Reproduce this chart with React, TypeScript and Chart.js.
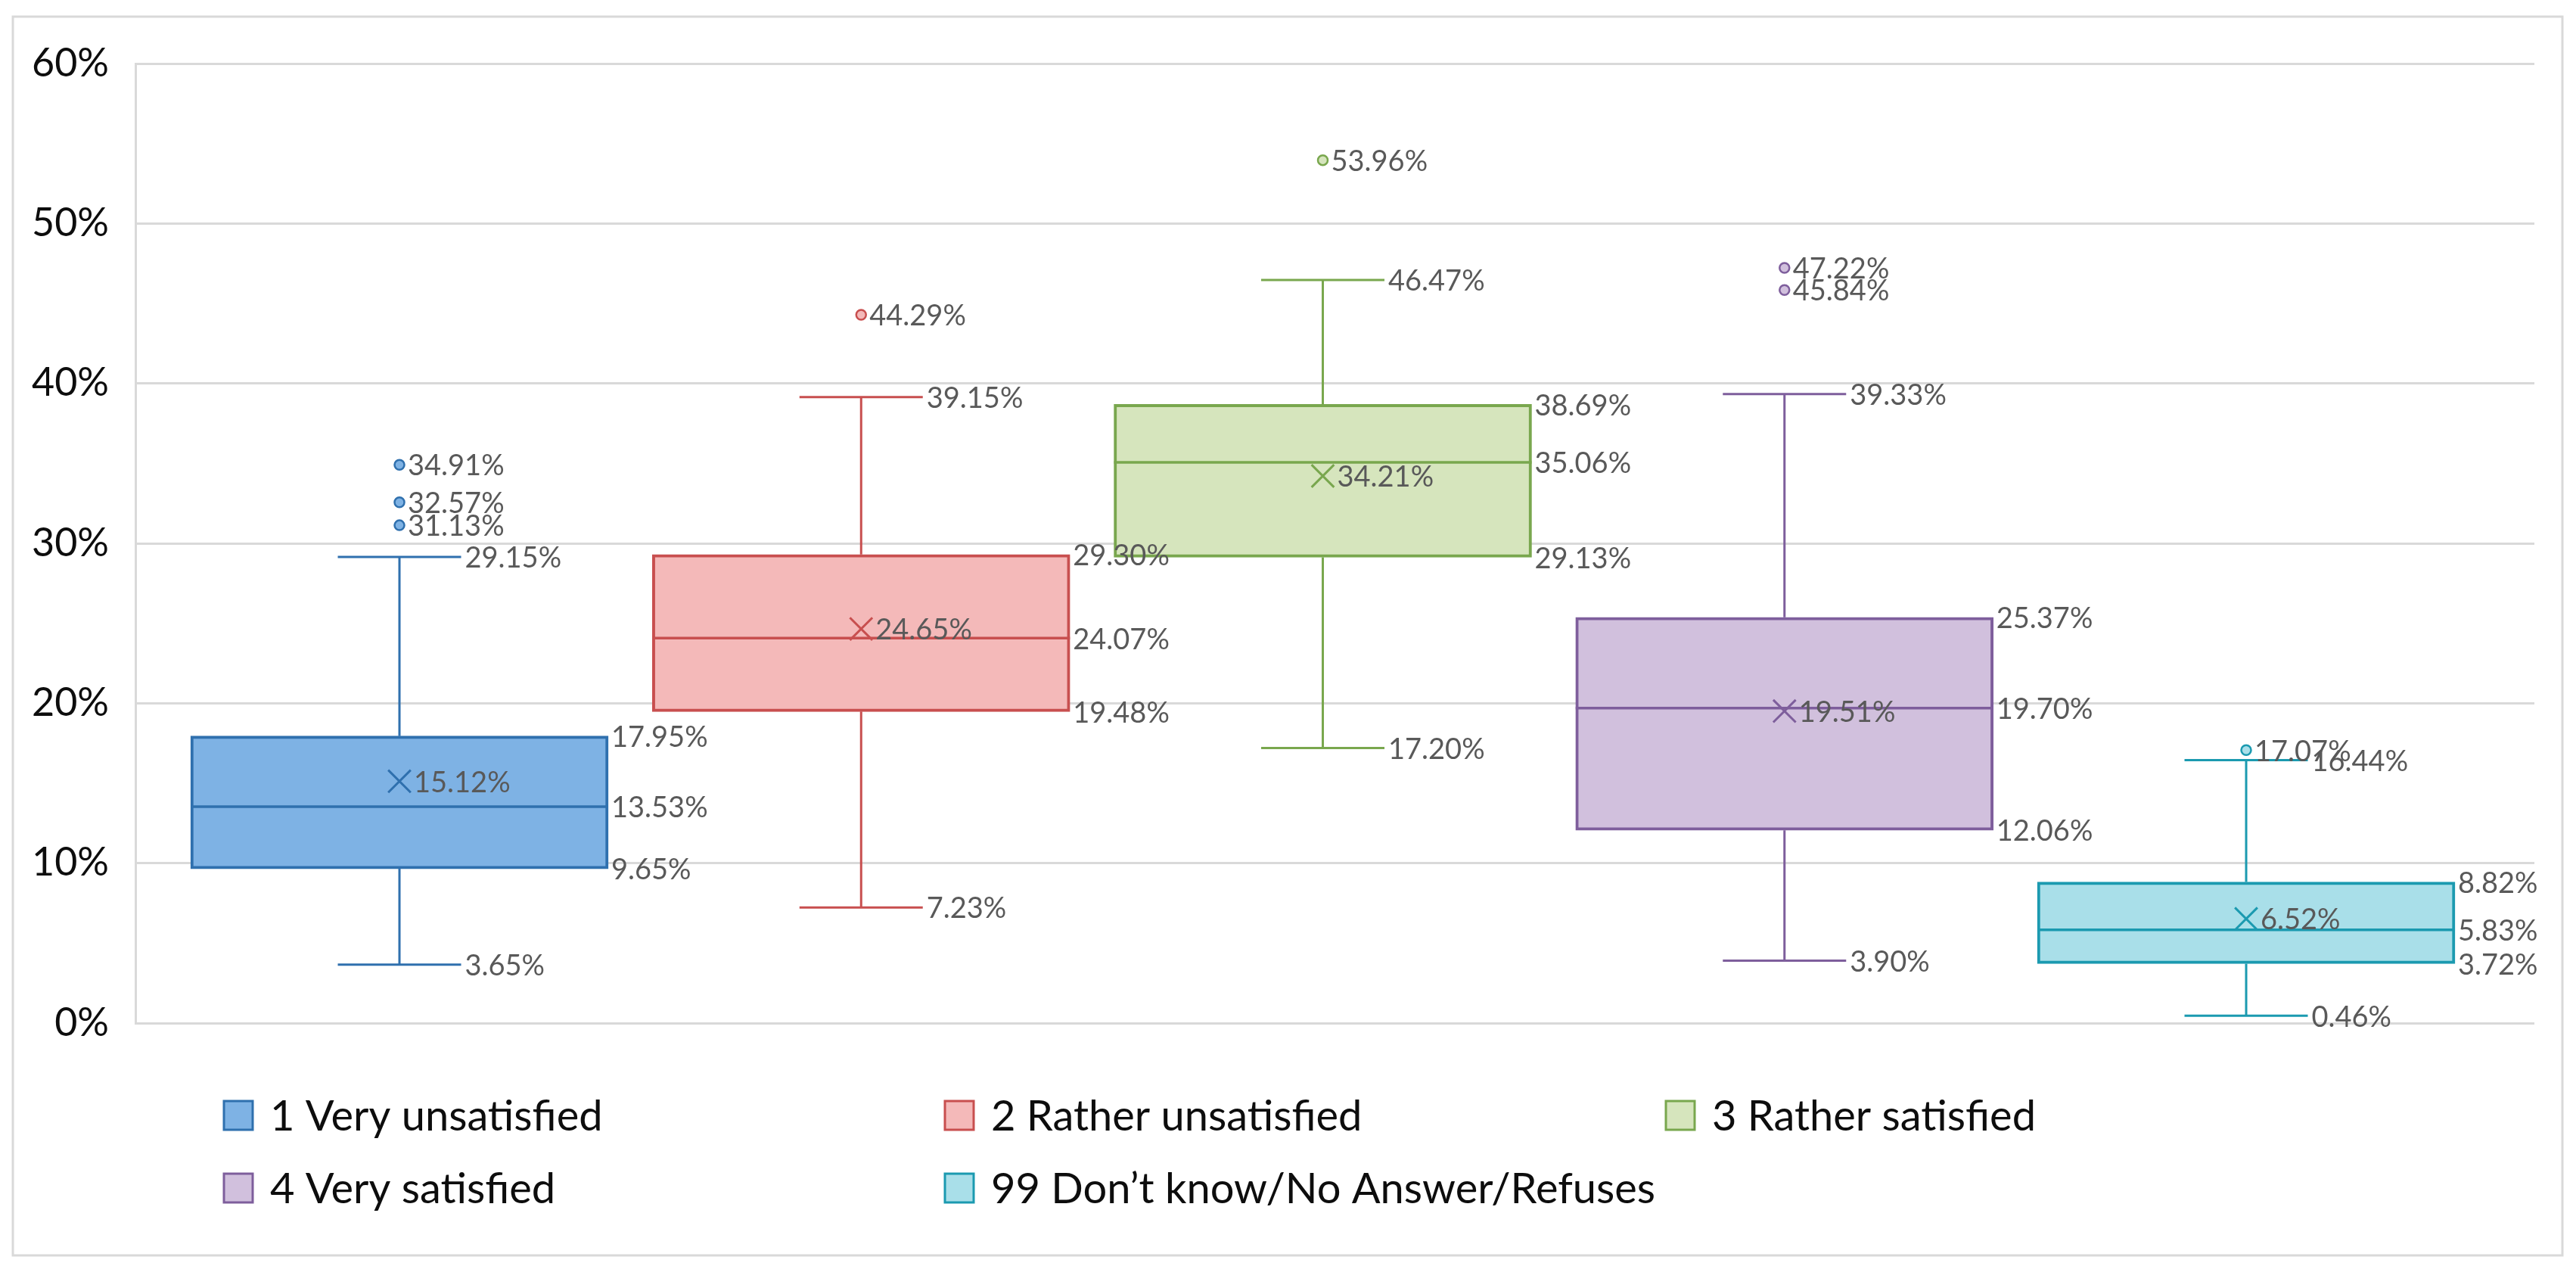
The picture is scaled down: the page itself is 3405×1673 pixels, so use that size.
import React, { useEffect, useRef } from "react";
import { Chart, registerables } from "chart.js";

Chart.register(...registerables);

// ---- data ----
const seriesNames = [
  "1 Very unsatisfied",
  "2 Rather unsatisfied",
  "3 Rather satisfied",
  "4 Very satisfied",
  "99 Don\u2019t know/No Answer/Refuses",
];
const whiskerLow = [3.65, 7.23, 17.2, 3.9, 0.46];
const quartile1 = [9.65, 19.48, 29.13, 12.06, 3.72];
const medians = [13.53, 24.07, 35.06, 19.7, 5.83];
const quartile3 = [17.95, 29.3, 38.69, 25.37, 8.82];
const whiskerHigh = [29.15, 39.15, 46.47, 39.33, 16.44];
const means = [15.12, 24.65, 34.21, 19.51, 6.52];
const outliers = [[31.13, 32.57, 34.91], [44.29], [53.96], [45.84, 47.22], [17.07]];
const yTickLabels = ["0%", "10%", "20%", "30%", "40%", "50%", "60%"];

// ---- styles ----
const fillColors = ["#7eb2e4", "#f4b9b9", "#d6e5bd", "#d1c0dd", "#a9dfe9"];
const lineColors = ["#2f70ae", "#c84f4f", "#79a74e", "#7e5e9c", "#1b9ab0"];
const FONT = "Lato";
const LABEL_COLOR = "#595959";
const TEXT_COLOR = "#0d0d0d";
const GRID_COLOR = "#d9d9d9";

const fmt = (v: number) => v.toFixed(2) + "%";

const boxPlugin = {
  id: "boxExtras",
  beforeDraw(chart: any) {
    const ctx = chart.ctx;
    ctx.save();
    ctx.fillStyle = "#ffffff";
    ctx.fillRect(0, 0, chart.width, chart.height);
    ctx.strokeStyle = GRID_COLOR;
    ctx.lineWidth = 3;
    ctx.strokeRect(17, 22, 3370, 1637);
    ctx.restore();
  },
  afterDatasetDraw(chart: any, args: any) {
    const meta = args.meta;
    if (meta.type !== "bar") return;
    const i = meta.index;
    const el = meta.data[0];
    if (!el) return;
    const y = chart.scales.y;
    const ctx = chart.ctx;
    const cx = el.x;
    const half = el.width / 2;
    const cap = 81.5;
    ctx.save();
    ctx.strokeStyle = lineColors[i];
    ctx.lineCap = "butt";
    // whiskers
    ctx.lineWidth = 3;
    ctx.beginPath();
    ctx.moveTo(cx, y.getPixelForValue(quartile3[i]));
    ctx.lineTo(cx, y.getPixelForValue(whiskerHigh[i]));
    ctx.moveTo(cx - cap, y.getPixelForValue(whiskerHigh[i]));
    ctx.lineTo(cx + cap, y.getPixelForValue(whiskerHigh[i]));
    ctx.moveTo(cx, y.getPixelForValue(quartile1[i]));
    ctx.lineTo(cx, y.getPixelForValue(whiskerLow[i]));
    ctx.moveTo(cx - cap, y.getPixelForValue(whiskerLow[i]));
    ctx.lineTo(cx + cap, y.getPixelForValue(whiskerLow[i]));
    ctx.stroke();
    // median
    ctx.lineWidth = 3.5;
    ctx.beginPath();
    ctx.moveTo(cx - half, y.getPixelForValue(medians[i]));
    ctx.lineTo(cx + half, y.getPixelForValue(medians[i]));
    ctx.stroke();
    ctx.restore();
  },
  afterDraw(chart: any) {
    const ctx = chart.ctx;
    const y = chart.scales.y;
    ctx.save();
    ctx.font = `38px ${FONT}`;
    ctx.fillStyle = LABEL_COLOR;
    ctx.textAlign = "left";
    ctx.textBaseline = "middle";
    const dy = 2;
    seriesNames.forEach((_, i) => {
      const meta = chart.getDatasetMeta(i);
      const el = meta.data[0];
      if (!el) return;
      const cx = el.x;
      const right = el.x + el.width / 2;
      [quartile3[i], medians[i], quartile1[i]].forEach((v) => {
        ctx.fillText(fmt(v), right + 4, y.getPixelForValue(v) + dy);
      });
      [whiskerHigh[i], whiskerLow[i]].forEach((v) => {
        ctx.fillText(fmt(v), cx + 81.5 + 5, y.getPixelForValue(v) + dy);
      });
      ctx.fillText(fmt(means[i]), cx + 19, y.getPixelForValue(means[i]) + dy);
      outliers[i].forEach((v) => {
        ctx.fillText(fmt(v), cx + 11, y.getPixelForValue(v) + dy);
      });
    });
    // legend
    const legendLeft = 296;
    const colWidth = 953;
    const rowCenters = [1474, 1570];
    const box = 38;
    ctx.font = `56px ${FONT}`;
    ctx.fillStyle = TEXT_COLOR;
    seriesNames.forEach((name, i) => {
      const col = i % 3;
      const row = Math.floor(i / 3);
      const lx = legendLeft + col * colWidth;
      const ly = rowCenters[row];
      ctx.fillStyle = fillColors[i];
      ctx.fillRect(lx, ly - box / 2, box, box);
      ctx.strokeStyle = lineColors[i];
      ctx.lineWidth = 3;
      ctx.strokeRect(lx, ly - box / 2, box, box);
      ctx.fillStyle = TEXT_COLOR;
      ctx.fillText(name, lx + 61, ly + 2);
    });
    ctx.restore();
  },
};

export default function App() {
  const canvasRef = useRef<HTMLCanvasElement | null>(null);

  useEffect(() => {
    if (!canvasRef.current) return;
    const boxDatasets = seriesNames.map((name, i) => ({
      type: "bar" as const,
      label: name,
      data: [{ x: i + 1, y: [quartile1[i], quartile3[i]] }],
      backgroundColor: fillColors[i],
      borderColor: lineColors[i],
      borderWidth: 4,
      borderSkipped: false,
      barThickness: 552,
      grouped: false,
      order: 3,
    }));
    const meanDatasets = seriesNames.map((name, i) => ({
      type: "scatter" as const,
      label: name + " mean",
      data: [{ x: i + 1, y: means[i] }],
      pointStyle: "crossRot",
      pointRadius: 21,
      pointBorderWidth: 3,
      borderColor: lineColors[i],
      backgroundColor: "rgba(0,0,0,0)",
      order: 2,
    }));
    const outlierDatasets = seriesNames.map((name, i) => ({
      type: "scatter" as const,
      label: name + " outliers",
      data: outliers[i].map((v) => ({ x: i + 1, y: v })),
      pointStyle: "circle",
      pointRadius: 6.5,
      pointBorderWidth: 2.5,
      borderColor: lineColors[i],
      backgroundColor: fillColors[i],
      order: 1,
    }));

    const chart = new Chart(canvasRef.current, {
      type: "bar",
      data: { datasets: [...boxDatasets, ...meanDatasets, ...outlierDatasets] as any },
      options: {
        animation: false,
        responsive: true,
        maintainAspectRatio: false,
        layout: { padding: { left: 0, top: 84, right: 55, bottom: 321 } },
        plugins: { legend: { display: false }, tooltip: { enabled: false }, title: { display: false } },
        scales: {
          x: {
            type: "linear",
            display: false,
            min: 0.4281,
            max: 5.6243,
            offset: false,
            grid: { display: false, offset: false },
          },
          y: {
            type: "linear",
            min: 0,
            max: 60,
            afterFit: (s: any) => {
              s.width = 179;
            },
            ticks: {
              stepSize: 10,
              padding: 35,
              color: TEXT_COLOR,
              font: { family: FONT, size: 52 },
              callback: (_v: any, idx: number) => yTickLabels[idx],
            },
            grid: { color: GRID_COLOR, lineWidth: 3, drawTicks: false },
            border: { display: true, color: GRID_COLOR, width: 3 },
          },
        },
      },
      plugins: [boxPlugin],
    });
    return () => chart.destroy();
  }, []);

  return (
    <div style={{ position: "fixed", left: 0, top: 0, width: "100vw", height: "100vh" }}>
      <canvas ref={canvasRef} />
    </div>
  );
}
